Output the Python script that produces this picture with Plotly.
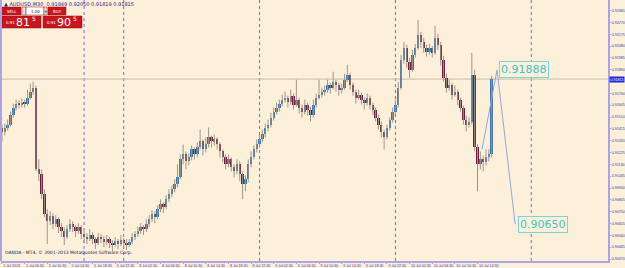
import plotly.graph_objects as go

# ---------------- data (AUDUSD, M30) ----------------
opens = [0.91426,0.91386,0.91426,0.91450,0.91530,0.91586,0.91618,0.91610,0.91626,0.91618,
0.91666,0.91714,0.91746,0.91090,0.91050,0.90890,0.90730,0.90674,0.90714,0.90650,
0.90690,0.90626,0.90594,0.90546,0.90610,0.90650,0.90626,0.90594,0.90626,0.90570,
0.90546,0.90530,0.90562,0.90530,0.90498,0.90546,0.90530,0.90506,0.90530,0.90498,
0.90482,0.90514,0.90490,0.90522,0.90498,0.90482,0.90506,0.90546,0.90570,0.90594,
0.90626,0.90610,0.90650,0.90690,0.90730,0.90706,0.90770,0.90810,0.90786,0.90850,
0.90890,0.90930,0.90970,0.91026,0.91170,0.91210,0.91154,0.91186,0.91250,0.91210,
0.91266,0.91314,0.91250,0.91290,0.91346,0.91314,0.91330,0.91290,0.91234,0.91186,
0.91130,0.91170,0.91106,0.91074,0.91130,0.91050,0.90970,0.91010,0.91130,0.91186,
0.91250,0.91290,0.91330,0.91370,0.91426,0.91450,0.91506,0.91554,0.91586,0.91618,
0.91650,0.91666,0.91634,0.91682,0.91610,0.91650,0.91586,0.91554,0.91610,0.91570,
0.91530,0.91610,0.91666,0.91690,0.91714,0.91730,0.91770,0.91746,0.91794,0.91770,
0.91730,0.91746,0.91810,0.91850,0.91770,0.91714,0.91666,0.91690,0.91650,0.91626,
0.91666,0.91610,0.91570,0.91506,0.91450,0.91394,0.91346,0.91426,0.91490,0.91554,
0.91610,0.91746,0.91970,0.92066,0.91954,0.91890,0.92010,0.92066,0.92170,0.92114,
0.92066,0.92034,0.92066,0.92026,0.92146,0.92090,0.91970,0.91826,0.91746,0.91770,
0.91690,0.91714,0.91650,0.91586,0.91490,0.91450,0.91474,0.91850,0.91266,0.91130,
0.91170,0.91146,0.91186,0.91210]

closes = [0.91386,0.91426,0.91450,0.91530,0.91586,0.91618,0.91610,0.91626,0.91618,0.91666,
0.91714,0.91746,0.91090,0.91050,0.90890,0.90730,0.90674,0.90714,0.90650,0.90690,
0.90626,0.90594,0.90546,0.90610,0.90650,0.90626,0.90594,0.90626,0.90570,0.90546,
0.90530,0.90562,0.90530,0.90498,0.90546,0.90530,0.90506,0.90530,0.90498,0.90482,
0.90514,0.90490,0.90522,0.90498,0.90482,0.90506,0.90546,0.90570,0.90594,0.90626,
0.90610,0.90650,0.90690,0.90730,0.90706,0.90770,0.90810,0.90786,0.90850,0.90890,
0.90930,0.90970,0.91026,0.91170,0.91210,0.91154,0.91186,0.91250,0.91210,0.91266,
0.91314,0.91250,0.91290,0.91346,0.91314,0.91330,0.91290,0.91234,0.91186,0.91130,
0.91170,0.91106,0.91074,0.91130,0.91050,0.90970,0.91010,0.91130,0.91186,0.91250,
0.91290,0.91330,0.91370,0.91426,0.91450,0.91506,0.91554,0.91586,0.91618,0.91650,
0.91666,0.91634,0.91682,0.91610,0.91650,0.91586,0.91554,0.91610,0.91570,0.91530,
0.91610,0.91666,0.91690,0.91714,0.91730,0.91770,0.91746,0.91794,0.91770,0.91730,
0.91746,0.91810,0.91850,0.91770,0.91714,0.91666,0.91690,0.91650,0.91626,0.91666,
0.91610,0.91570,0.91506,0.91450,0.91394,0.91346,0.91426,0.91490,0.91554,0.91610,
0.91746,0.91970,0.92066,0.91954,0.91890,0.92010,0.92066,0.92170,0.92114,0.92066,
0.92034,0.92066,0.92026,0.92146,0.92090,0.91970,0.91826,0.91746,0.91770,0.91690,
0.91714,0.91650,0.91586,0.91490,0.91450,0.91474,0.91850,0.91266,0.91130,0.91170,
0.91146,0.91186,0.91210,0.91815]

highs = [0.91450,0.91458,0.91490,0.91554,0.91618,0.91650,0.91642,0.91658,0.91650,0.91730,
0.91778,0.91794,0.91762,0.91170,0.91090,0.90930,0.90770,0.90754,0.90738,0.90722,
0.90706,0.90658,0.90626,0.90642,0.90690,0.90674,0.90642,0.90658,0.90642,0.90594,
0.90578,0.90610,0.90586,0.90546,0.90578,0.90570,0.90554,0.90562,0.90546,0.90522,
0.90546,0.90530,0.90562,0.90538,0.90530,0.90530,0.90578,0.90594,0.90626,0.90658,
0.90642,0.90690,0.90722,0.90762,0.90754,0.90802,0.90850,0.90826,0.90882,0.90930,
0.90962,0.91010,0.91130,0.91210,0.91290,0.91234,0.91218,0.91282,0.91266,0.91306,
0.91410,0.91330,0.91346,0.91426,0.91362,0.91370,0.91346,0.91306,0.91250,0.91210,
0.91210,0.91186,0.91130,0.91170,0.91154,0.91074,0.91042,0.91170,0.91234,0.91282,
0.91330,0.91370,0.91410,0.91458,0.91490,0.91546,0.91586,0.91626,0.91650,0.91690,
0.91714,0.91682,0.91730,0.91698,0.91810,0.91666,0.91610,0.91650,0.91626,0.91594,
0.91650,0.91698,0.91810,0.91746,0.91762,0.91810,0.91786,0.91874,0.91810,0.91786,
0.91778,0.91858,0.91930,0.91866,0.91786,0.91730,0.91730,0.91706,0.91666,0.91698,
0.91682,0.91626,0.91586,0.91530,0.91474,0.91410,0.91450,0.91506,0.91586,0.91650,
0.91794,0.92010,0.92114,0.92090,0.91986,0.92050,0.92098,0.92290,0.92194,0.92146,
0.92090,0.92098,0.92082,0.92242,0.92178,0.92114,0.92002,0.91858,0.91810,0.91786,
0.91762,0.91730,0.91666,0.91602,0.91522,0.91506,0.92026,0.91890,0.91290,0.91234,
0.91202,0.91250,0.91250,0.91842]

lows = [0.91314,0.91362,0.91402,0.91434,0.91506,0.91562,0.91578,0.91586,0.91586,0.91602,
0.91650,0.91690,0.91074,0.90994,0.90850,0.90706,0.90490,0.90642,0.90610,0.90626,
0.90578,0.90546,0.90482,0.90530,0.90586,0.90586,0.90546,0.90570,0.90530,0.90498,
0.90490,0.90514,0.90490,0.90450,0.90482,0.90498,0.90466,0.90482,0.90458,0.90434,
0.90466,0.90450,0.90474,0.90458,0.90442,0.90466,0.90490,0.90522,0.90546,0.90570,
0.90562,0.90586,0.90626,0.90666,0.90658,0.90690,0.90746,0.90738,0.90770,0.90826,
0.90866,0.90906,0.90946,0.91010,0.91130,0.91090,0.91122,0.91162,0.91170,0.91186,
0.91250,0.91202,0.91226,0.91266,0.91266,0.91282,0.91250,0.91186,0.91146,0.91090,
0.91106,0.91074,0.91026,0.91050,0.90994,0.90850,0.90914,0.90986,0.91106,0.91170,
0.91226,0.91266,0.91306,0.91346,0.91394,0.91426,0.91482,0.91530,0.91554,0.91594,
0.91626,0.91586,0.91610,0.91570,0.91594,0.91538,0.91506,0.91530,0.91522,0.91474,
0.91506,0.91586,0.91650,0.91666,0.91682,0.91706,0.91698,0.91730,0.91714,0.91682,
0.91698,0.91730,0.91794,0.91730,0.91682,0.91618,0.91650,0.91610,0.91570,0.91602,
0.91570,0.91530,0.91474,0.91410,0.91346,0.91250,0.91330,0.91402,0.91466,0.91530,
0.91586,0.91730,0.91938,0.91906,0.91826,0.91874,0.91986,0.92050,0.92066,0.92026,
0.91994,0.92010,0.91986,0.92010,0.92050,0.91922,0.91794,0.91706,0.91722,0.91650,
0.91674,0.91602,0.91554,0.91450,0.91394,0.91426,0.91450,0.91234,0.90914,0.91090,
0.91074,0.91122,0.91154,0.91186]

time_tick_bars = [0, 8, 16, 24, 32, 40, 48, 56, 64, 72, 80, 88, 96, 104, 112, 120,
                  128, 136, 144, 152, 160, 168]
time_tick_labels = ["5 Jul 2013", "5 Jul 06:30", "5 Jul 10:30", "5 Jul 14:30", "5 Jul 18:30",
                    "5 Jul 22:30", "8 Jul 02:30", "8 Jul 06:30", "8 Jul 10:30", "8 Jul 14:30",
                    "8 Jul 18:30", "8 Jul 22:30", "9 Jul 02:30", "9 Jul 06:30", "9 Jul 10:30",
                    "9 Jul 14:30", "9 Jul 18:30", "9 Jul 22:30", "10 Jul 02:30", "10 Jul 06:30",
                    "10 Jul 10:30", "10 Jul 14:30"]
price_ticks = [0.92365, 0.92270, 0.92175, 0.92080, 0.91985, 0.91890, 0.91700,
               0.91605, 0.91510, 0.91415, 0.91320, 0.91225, 0.91130, 0.91035, 0.90940,
               0.90845, 0.90750, 0.90655, 0.90560, 0.90465, 0.90370]
price_tick_labels = ["%.5f" % p for p in price_ticks]
separator_bars = [29, 43, 91, 139, 187]
bid = 0.91815
zz_bars = [169.6, 174.9, 181.3]
zz_prices = [0.91250, 0.91888, 0.90650]

# ---------------- style ----------------
BG = "#FDF0DA"
WICK = "#9C9689"
BULL = "#3F73A8"
BEAR = "#6E1E3A"
AXIS = "#ABA4E6"
TXT = "#3434A8"
FONT = "DejaVu Sans"
SMALL = "Liberation Sans"

W, H = 625, 268
L, R, T, B = 1, 608, 0, 261


def pxx(x):
    return (x - L) / (R - L)


def pxy(y):
    return (B - y) / (B - T)


n = len(opens)
idx = list(range(n))

wx, wy = [], []
for i in idx:
    wx += [i, i, None]
    wy += [lows[i], highs[i], None]

fig = go.Figure()
fig.add_trace(go.Scatter(x=wx, y=wy, mode="lines", line=dict(color=WICK, width=1),
                         hoverinfo="skip", showlegend=False))
fig.add_trace(go.Bar(x=idx, base=opens, y=[c - o for o, c in zip(opens, closes)],
                     width=0.85,
                     marker=dict(color=[BULL if c >= o else BEAR for o, c in zip(opens, closes)],
                                 line=dict(width=0)),
                     hoverinfo="skip", showlegend=False))
fig.add_trace(go.Scatter(x=zz_bars, y=zz_prices, mode="lines",
                         line=dict(color="#8FA6DE", width=1), hoverinfo="skip",
                         showlegend=False))

shapes = []
for s in separator_bars:
    shapes.append(dict(type="line", xref="x", yref="paper", x0=s, x1=s, y0=0, y1=1,
                       line=dict(color="#6B6BE8", width=1, dash="dot"), layer="below"))
shapes.append(dict(type="line", xref="paper", yref="y", x0=0, x1=1, y0=bid, y1=bid,
                   line=dict(color="#C4BCA6", width=1), layer="below"))

# one-click trading panel
panel = [
    (2, 7, 21, 15, "#C8161E"),
    (22, 7, 26, 15, "#E6E6E6"),
    (26, 7, 44, 15, "#FFFFFF"),
    (44, 7, 47, 15, "#E6E6E6"),
    (48, 7, 66, 15, "#C8161E"),
    (2, 16, 41, 28, "#C8161E"),
    (43, 16, 82, 28, "#C8161E"),
]
for x0, y0, x1, y1, c in panel:
    shapes.append(dict(type="rect", xref="paper", yref="paper",
                       x0=pxx(x0), x1=pxx(x1), y0=pxy(y1), y1=pxy(y0),
                       fillcolor=c, line=dict(color="#9A0E14", width=0.5), layer="above"))

ann = []


def text(x, y, s, size, color, anchor="left", yanchor="middle", family=FONT, **kw):
    ann.append(dict(xref="paper", yref="paper", x=pxx(x), y=pxy(y), text=s, showarrow=False,
                    xanchor=anchor, yanchor=yanchor,
                    font=dict(family=family, size=size, color=color), **kw))


text(2, 3.5, "▲ AUDUSD,M30  0.91849 0.92050 0.91819 0.91815", 5, "#1A1A8C")
text(11.5, 11, "SELL", 4, "white", anchor="center")
text(24, 11, "-", 4, "#333333", anchor="center")
text(35, 11, "1.00", 4, "#111111", anchor="center")
text(45.5, 11, "+", 4, "#333333", anchor="center")
text(57, 11, "BUY", 4, "white", anchor="center")
text(4, 23, "0.91", 4, "white")
text(14, 22, "81", 11, "white")
text(30, 19, "5", 6, "white")
text(45, 23, "0.91", 4, "white")
text(55, 22, "90", 11, "white")
text(71, 19, "5", 6, "white")
text(3, 252, "OANDA - MT4, © 2001-2013 MetaQuotes Software Corp.", 4.5, "#1A1A4A")

# price labels of drawn objects
ann.append(dict(xref="x", yref="y", x=zz_bars[1] + 0.6, y=zz_prices[1], text="0.91888",
                showarrow=False, xanchor="left", yanchor="middle",
                font=dict(family=FONT, size=11, color="#3EC4C4"),
                bordercolor="#7AD6D6", borderwidth=1, borderpad=1, bgcolor=BG))
ann.append(dict(xref="x", yref="y", x=zz_bars[2] + 1.0, y=zz_prices[2], text="0.90650",
                showarrow=False, xanchor="left", yanchor="middle",
                font=dict(family=FONT, size=11, color="#3EC4C4"),
                bordercolor="#7AD6D6", borderwidth=1, borderpad=1, bgcolor=BG))
# current bid label on axis
ann.append(dict(xref="paper", yref="y", x=1, y=bid, text="%.5f" % bid, showarrow=False,
                xanchor="left", yanchor="middle", xshift=1,
                font=dict(family=SMALL, size=3.6, color="white"), bgcolor="#2424E0",
                borderpad=0.5))

fig.update_layout(
    width=W, height=H,
    margin=dict(l=L, r=W - R, t=T, b=H - B),
    paper_bgcolor=BG, plot_bgcolor=BG,
    showlegend=False,
    bargap=0,
    shapes=shapes,
    annotations=ann,
    xaxis=dict(range=[-0.35, 214.1], showgrid=False, zeroline=False, automargin=False,
               tickvals=time_tick_bars, ticktext=time_tick_labels, tickangle=0,
               ticks="outside", ticklen=1, tickcolor=AXIS,
               ticklabelposition="outside right",
               tickfont=dict(family=SMALL, size=3.6, color=TXT),
               showline=True, linecolor=AXIS, linewidth=2, mirror=False),
    yaxis=dict(range=[0.90354, 0.92450], side="right", showgrid=False, zeroline=False,
               automargin=False,
               tickvals=price_ticks, ticktext=price_tick_labels,
               ticks="outside", ticklen=1, tickcolor=AXIS,
               tickfont=dict(family=SMALL, size=3.6, color=TXT),
               showline=True, linecolor=AXIS, linewidth=2),
)
fig.add_shape(type="line", xref="paper", yref="paper", x0=0, x1=0, y0=0, y1=1,
              line=dict(color=AXIS, width=2))

fig.write_html("out.html")
